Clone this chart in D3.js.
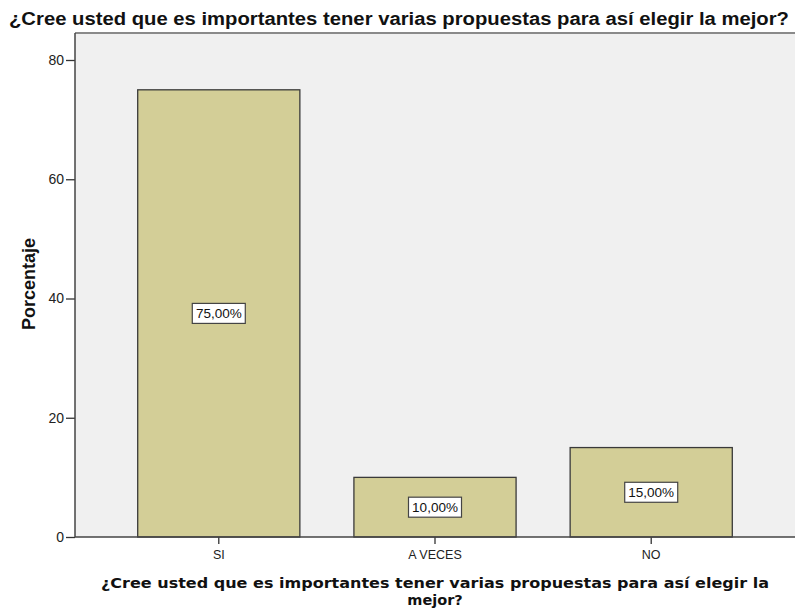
<!DOCTYPE html>
<html>
<head>
<meta charset="utf-8">
<script src="https://cdn.jsdelivr.net/npm/d3@7"></script>
<style>
body { margin: 0; background: #fff; }
svg text { font-family: "Liberation Sans", Arial, sans-serif; }
</style>
</head>
<body>
<svg id="chart" width="795" height="616"></svg>
<script>
var categories = ["SI", "A VECES", "NO"];
var percents = [75, 10, 15];
var pctLabels = ["75,00%", "10,00%", "15,00%"];
var yTicks = [0, 20, 40, 60, 80];

var title = "¿Cree usted que es importantes tener varias propuestas para así elegir la mejor?";
var xTitle = ["¿Cree usted que es importantes tener varias propuestas para así elegir la", "mejor?"];
var yTitle = "Porcentaje";

var svg = d3.select('#chart');
var pLeft = 75, pRight = 795, pTop = 33, pBottom = 537;

var x = d3.scaleBand()
	.domain(categories)
	.range([pLeft, pRight])
	.paddingInner(0.25)
	.paddingOuter(0.29);

var y = d3.scaleLinear()
	.domain([0, 80])
	.range([pBottom, 60]);

// plot background
svg.append('rect')
	.attr("x", pLeft)
	.attr("y", pTop)
	.attr("width", pRight - pLeft)
	.attr("height", pBottom - pTop)
	.style("fill", "#f0f0f0");

svg.append('line')
	.attr("x1", pLeft).attr("x2", pRight)
	.attr("y1", pTop).attr("y2", pTop)
	.style("stroke", "#8a8a8a")
	.style("stroke-width", 2);

// bars
svg.selectAll('rect.bar')
	.data(percents)
	.enter()
	.append('rect')
	.attr("class", "bar")
	.attr("x", function(d, i){ return x(categories[i]); })
	.attr("y", function(d){ return y(d); })
	.attr("width", x.bandwidth())
	.attr("height", function(d){ return pBottom - y(d); })
	.style("fill", "#d3ce97")
	.style("stroke", "#3a3a3a")
	.style("stroke-width", 1.3);

// value labels
var lab = svg.selectAll('g.lab')
	.data(percents)
	.enter()
	.append('g')
	.attr("class", "lab")
	.attr("transform", function(d, i){
		return "translate(" + (x(categories[i]) + x.bandwidth() / 2) + "," + y(d / 2) + ")";
	});
lab.append('rect')
	.attr("x", -26.5).attr("y", -10)
	.attr("width", 53).attr("height", 20)
	.style("fill", "#fff")
	.style("stroke", "#444")
	.style("stroke-width", 1.2);
lab.append('text')
	.attr("text-anchor", "middle")
	.attr("dy", "0.36em")
	.style("font-size", "13.5px")
	.style("fill", "#111")
	.text(function(d, i){ return pctLabels[i]; });

// y axis
var yAxis = svg.append('g')
	.attr("transform", "translate(" + pLeft + ",0)")
	.call(d3.axisLeft(y).tickValues(yTicks).tickSize(9).tickPadding(2));
yAxis.select('.domain').remove();
yAxis.selectAll('.tick line').style("stroke", "#333").style("stroke-width", 1.3);
yAxis.selectAll('.tick text').style("font-size", "14px").style("fill", "#222")
	.style("font-family", "'Liberation Sans', Arial, sans-serif");
svg.append('line')
	.attr("x1", pLeft).attr("x2", pLeft)
	.attr("y1", pTop).attr("y2", pBottom)
	.style("stroke", "#444")
	.style("stroke-width", 1.5);

// x axis
var xAxis = svg.append('g')
	.attr("transform", "translate(0," + pBottom + ")")
	.call(d3.axisBottom(x).tickSize(7).tickPadding(6).tickSizeOuter(0));
xAxis.select('.domain').remove();
xAxis.selectAll('.tick line').style("stroke", "#333").style("stroke-width", 1.3);
xAxis.selectAll('.tick text').style("font-size", "12.5px").style("fill", "#222")
	.style("font-family", "'Liberation Sans', Arial, sans-serif");
svg.append('line')
	.attr("x1", pLeft).attr("x2", pRight)
	.attr("y1", pBottom).attr("y2", pBottom)
	.style("stroke", "#444")
	.style("stroke-width", 1.5);

// titles
svg.append('text')
	.attr("x", 399)
	.attr("y", 25)
	.attr("text-anchor", "middle")
	.attr("textLength", 780)
	.attr("lengthAdjust", "spacingAndGlyphs")
	.style("font-size", "18px")
	.style("font-weight", "bold")
	.style("fill", "#111")
	.text(title);

svg.selectAll('text.xtitle')
	.data(xTitle)
	.enter()
	.append('text')
	.attr("class", "xtitle")
	.attr("x", (pLeft + pRight) / 2)
	.attr("y", function(d, i){ return 588 + i * 17; })
	.attr("text-anchor", "middle")
	.attr("textLength", function(d, i){ return i === 0 ? 668 : null; })
	.attr("lengthAdjust", "spacingAndGlyphs")
	.style("font-family", "'DejaVu Sans', Verdana, sans-serif")
	.style("font-size", "14.5px")
	.style("font-weight", "bold")
	.style("fill", "#111")
	.text(function(d){ return d; });

svg.append('text')
	.attr("transform", "translate(35,284) rotate(-90)")
	.attr("text-anchor", "middle")
	.style("font-size", "18px")
	.style("font-weight", "bold")
	.style("fill", "#111")
	.text(yTitle);
</script>
</body>
</html>
